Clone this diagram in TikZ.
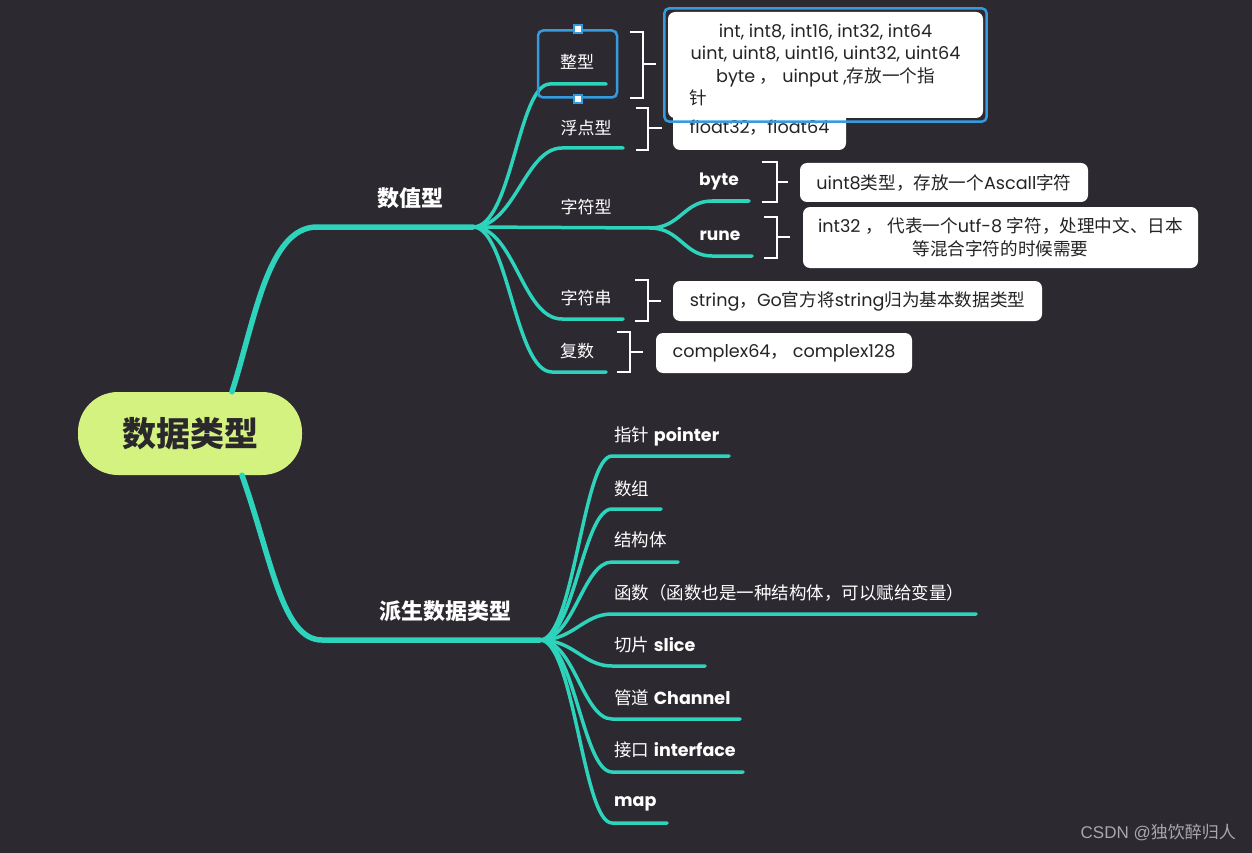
\documentclass[tikz,border=0pt]{standalone}
\usepackage{fontspec}
\setmainfont{Poppins}
\newfontfamily\zh{Noto Sans CJK SC}
\newfontfamily\wmfont{Liberation Sans}
\usetikzlibrary{calc}
\usetikzlibrary{fit}

\definecolor{bgdark}{RGB}{44,41,48}
\definecolor{branchteal}{RGB}{46,211,188}
\definecolor{rootgreen}{RGB}{212,242,128}
\definecolor{roottext}{RGB}{42,40,44}
\definecolor{notetext}{RGB}{36,36,38}
\definecolor{selblue}{RGB}{52,156,222}
\definecolor{wmgray}{RGB}{170,166,173}

\newcommand{\z}[1]{{\zh #1}}

\begin{document}
\begin{tikzpicture}[x=1pt, y=-1pt,
    trunk/.style={branchteal, line width=5.5pt, line cap=round},
    branch/.style={branchteal, line width=3.5pt, line cap=round},
    root/.style={fill=rootgreen, rounded corners=40pt, minimum width=224pt, minimum height=83pt, inner sep=0pt, text=roottext, font=\bfseries\fontsize{34}{40}\selectfont},
    lbl/.style={text=white, inner sep=0pt, font=\fontsize{17}{20}\selectfont},
    keylbl/.style={text=white, inner sep=0pt, font=\bfseries\fontsize{22}{26}\selectfont},
    note/.style={fill=white, rounded corners=7pt, text=notetext, inner sep=0pt, align=center, font=\fontsize{17.6}{22.6}\selectfont},
    brack/.style={white, line width=2.2pt},
    selframe/.style={draw=selblue, line width=2.5pt, rounded corners=5pt},
    handle/.style={draw=selblue, fill=white, line width=2pt, minimum size=8pt, inner sep=0pt},
]
    \fill [bgdark] (0,0) rectangle (1252,853);
    \useasboundingbox (0,0) rectangle (1252,853);

    \node [root] (root) at (190,433.5) {\z{数据类型}};

    \coordinate (numhub) at (473,227);
    \coordinate (derhub) at (540,640);
    \coordinate (charhub) at (650,228);

    \draw [trunk] ([xshift=42pt]root.north) .. controls (255,320) and (268,227) .. (317,227) -- (numhub);
    \draw [trunk] ([xshift=52pt]root.south) .. controls (272,560) and (282,640) .. (322,640) -- (derhub);
    \node [keylbl] (numlbl) at (410,198) {\z{数值型}};
    \node [keylbl] (derlbl) at (445,611) {\z{派生数据类型}};

    % numeric side
    \coordinate (intend) at (606,84);
    \coordinate (floatend) at (623,148);
    \coordinate (strend) at (623,319);
    \coordinate (cpxend) at (606,372);
    \coordinate (byteend) at (749,201);
    \coordinate (runeend) at (752,256);

    \draw [branch] (numhub) .. controls (512,227) and (518,84) .. (550,84) -- (intend);
    \draw [branch] (numhub) .. controls (515,227) and (525,148) .. (562,148) -- (floatend);
    \draw [branch] (numhub) -- (charhub);
    \draw [branch] (numhub) .. controls (515,227) and (522,319) .. (562,319) -- (strend);
    \draw [branch] (numhub) .. controls (508,227) and (515,372) .. (552,372) -- (cpxend);
    \draw [branch] (charhub) .. controls (680,228) and (684,201) .. (712,201) -- (byteend);
    \draw [branch] (charhub) .. controls (680,228) and (684,256) .. (712,256) -- (runeend);

    \node [lbl] (intlbl) at (577,62) {\z{整型}};
    \node [lbl] (floatlbl) at (586,128) {\z{浮点型}};
    \node [lbl] (charlbl) at (586,207) {\z{字符型}};
    \node [lbl] (strlbl) at (586,298) {\z{字符串}};
    \node [lbl] (cpxlbl) at (577,351) {\z{复数}};
    \node [lbl, font=\bfseries\fontsize{17}{20}\selectfont] (bytelbl) at (719,181) {byte};
    \node [lbl, font=\bfseries\fontsize{17}{20}\selectfont] (runelbl) at (720,236) {rune};

    \node [selframe, minimum width=79pt, minimum height=67pt] (intsel) at (577.5,64) {};
    \node [handle] (seltop) at (intsel.north) {};
    \node [handle] (selbot) at (intsel.south) {};

    \draw [brack] (630,32) -- (643,32) -- (643,98) -- (630,98) (643,64) -- (656,64);
    \draw [brack] (636,108) -- (648,108) -- (648,150) -- (636,150) (648,128) -- (662,128);
    \draw [brack] (762,162) -- (777,162) -- (777,202) -- (762,202) (777,182) -- (788,182);
    \draw [brack] (764,217) -- (777,217) -- (777,258) -- (764,258) (777,237) -- (790,237);
    \draw [brack] (635,280) -- (648,280) -- (648,321) -- (635,321) (648,301) -- (661,301);
    \draw [brack] (617,332) -- (630,332) -- (630,372) -- (617,372) (630,352) -- (643,352);

    \node [note, minimum width=173pt, minimum height=44pt] (floatnote) at (759.5,128) {float32\z{，}float64};
    \node [note, minimum width=315pt, minimum height=106pt] (intnote) at (825.5,65)
        {\parbox{315pt}{\centering int, int8, int16, int32, int64\\ uint, uint8, uint16, uint32, uint64\\ byte \z{，} uinput ,\z{存放一个指}\par\raggedright\hspace*{21pt}\z{针}}};
    \node [selframe, fit=(intnote), inner sep=3.5pt] (intnotesel) {};
    \node [note, minimum width=288pt, minimum height=39pt] (bytenote) at (944,182.5) {uint8\z{类型，存放一个}Ascall\z{字符}};
    \node [note, minimum width=395pt, minimum height=61pt] (runenote) at (1000.5,237.5) {int32 \z{，} \z{代表一个}utf-8 \z{字符，处理中文、日本}\\ \z{等混合字符的时候需要}};
    \node [note, minimum width=369pt, minimum height=40pt] (strnote) at (857.5,301) {string\z{，}Go\z{官方将}string\z{归为基本数据类型}};
    \node [note, minimum width=256pt, minimum height=40pt] (cpxnote) at (784,353) {complex64\z{，} complex128};

    % derived side
    \coordinate (ptrend) at (729,456);
    \coordinate (arrend) at (661,509);
    \coordinate (structend) at (678,562);
    \coordinate (funcend) at (976,614);
    \coordinate (sliceend) at (705,666);
    \coordinate (chanend) at (740,719);
    \coordinate (ifaceend) at (743,772);
    \coordinate (mapend) at (667,823);

    \draw [branch] (derhub) .. controls (574,640) and (583,456) .. (612,456) -- (ptrend);
    \draw [branch] (derhub) .. controls (574,640) and (583,509) .. (612,509) -- (arrend);
    \draw [branch] (derhub) .. controls (574,640) and (583,562) .. (612,562) -- (structend);
    \draw [branch] (derhub) .. controls (574,640) and (583,614) .. (612,614) -- (funcend);
    \draw [branch] (derhub) .. controls (574,640) and (583,666) .. (612,666) -- (sliceend);
    \draw [branch] (derhub) .. controls (574,640) and (583,719) .. (612,719) -- (chanend);
    \draw [branch] (derhub) .. controls (574,640) and (583,772) .. (612,772) -- (ifaceend);
    \draw [branch] (derhub) .. controls (574,640) and (583,823) .. (612,823) -- (mapend);

    \node [lbl, anchor=west, font=\fontsize{17.5}{20}\selectfont] (ptrlbl) at (614,436) {\z{指针} \textbf{pointer}};
    \node [lbl, anchor=west, font=\fontsize{17.5}{20}\selectfont] (arrlbl) at (614,489) {\z{数组}};
    \node [lbl, anchor=west, font=\fontsize{17.5}{20}\selectfont] (structlbl) at (614,540) {\z{结构体}};
    \node [lbl, anchor=west, font=\fontsize{17.5}{20}\selectfont] (funclbl) at (614,593) {\z{函数（函数也是一种结构体，可以赋给变量）}};
    \node [lbl, anchor=west, font=\fontsize{17.5}{20}\selectfont] (slicelbl) at (614,645) {\z{切片} \textbf{slice}};
    \node [lbl, anchor=west, font=\fontsize{17.5}{20}\selectfont] (chanlbl) at (614,698) {\z{管道} \textbf{Channel}};
    \node [lbl, anchor=west, font=\fontsize{17.5}{20}\selectfont] (ifacelbl) at (614,750) {\z{接口} \textbf{interface}};
    \node [lbl, anchor=west, font=\fontsize{17.5}{20}\selectfont] (maplbl) at (614,804) {\textbf{map}};

    \node [anchor=east, inner sep=0pt, text=wmgray, font=\wmfont\fontsize{17}{20}\selectfont] (mark) at (1236,832) {CSDN @\z{独饮醉归人}};
\end{tikzpicture}
\end{document}
